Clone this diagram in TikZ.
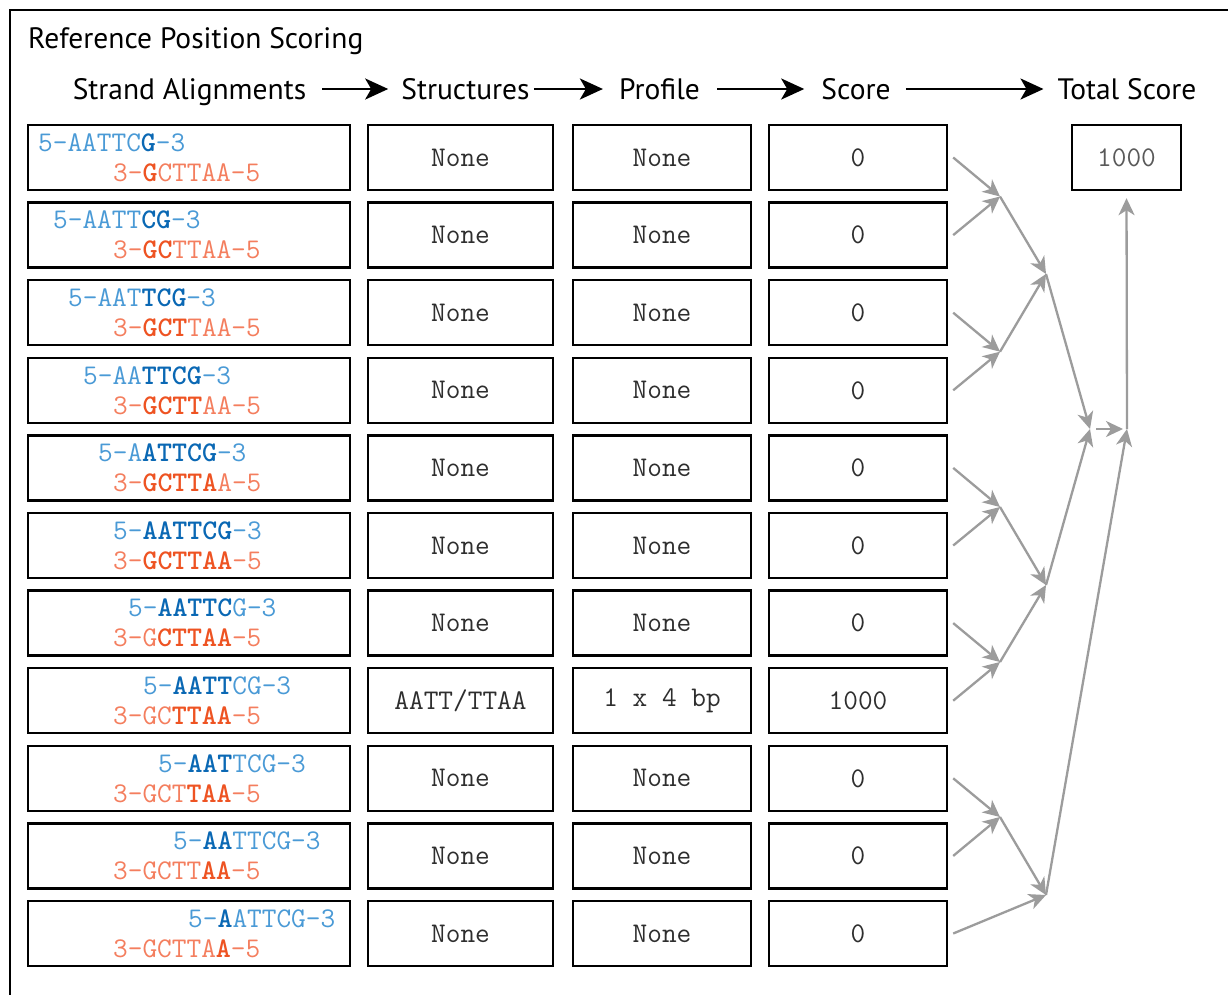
\documentclass[tikz,border=0pt]{standalone}
\usepackage{fontspec}
\usetikzlibrary{arrows.meta}
\newfontfamily\hdrfont{PT Sans}

\definecolor{blueL}{HTML}{4A9AD6}
\definecolor{blueD}{HTML}{0A68B4}
\definecolor{orangeL}{HTML}{F47E5E}
\definecolor{orangeD}{HTML}{EE5322}
\definecolor{flowgray}{HTML}{9C9C9C}
\definecolor{celltext}{HTML}{2E2E2E}

% bold highlighted bases on each strand
\newcommand{\bb}[1]{{\bfseries\color{blueD}#1}}
\newcommand{\ob}[1]{{\bfseries\color{orangeD}#1}}

\tikzset{
  cell/.style={draw=black, line width=2.4pt, minimum height=65pt, inner sep=0pt,
    font=\ttfamily\fontsize{28.5}{30}\selectfont, text=celltext},
  topstrand/.style={anchor=west, inner sep=0pt, text=blueL,
    font=\ttfamily\fontsize{28.5}{30}\selectfont},
  botstrand/.style={topstrand, text=orangeL},
  hdr/.style={font=\hdrfont\fontsize{29.5}{32}\selectfont, inner sep=0pt, anchor=base},
  harrow/.style={draw=black, line width=2.6pt, -{Stealth[length=23pt,width=21pt,inset=6pt]}},
  garrow/.style={draw=flowgray, line width=2.3pt, -{Stealth[length=17pt,width=16pt,inset=5pt]}},
}

% one row: index, top strand, bottom strand, structure, profile, score
\newcommand{\alnrow}[6]{%
  \pgfmathsetmacro{\cy}{157.5+(#1-1)*77.6}%
  \pgfmathsetmacro{\tx}{113+(#1-6)*15}%
  \node[cell, minimum width=322pt] (a#1) at (189,\cy) {};
  \node[topstrand] (t#1) at (\tx,\cy-15) {#2};
  \node[botstrand] (b#1) at (113,\cy+15) {#3};
  \node[cell, minimum width=185pt] (st#1) at (460.5,\cy) {#4};
  \node[cell, minimum width=178pt] (p#1) at (662,\cy) {#5};
  \node[cell, minimum width=178pt] (s#1) at (858,\cy) {#6};
}

\begin{document}
\begin{tikzpicture}[x=1pt,y=-1pt]
\useasboundingbox (0,0) rectangle (1228,994);
\clip (0,0) rectangle (1228,994);
\fill[white] (0,0) rectangle (1228,994);

% outer frame (runs past the right and bottom edges)
\draw[line width=2.4pt] (10,10) rectangle (1300,1100);

% title and column headers
\node[hdr, anchor=base west] (title) at (28,48) {Reference Position Scoring};
\node[hdr] (hStrand) at (189.5,99) {Strand Alignments};
\node[hdr] (hStruct) at (465.5,99) {Structures};
\node[hdr] (hProf) at (659.5,99) {Profile};
\node[hdr] (hScore) at (856,99) {Score};
\node[hdr] (hTotal) at (1127,99) {Total Score};

\coordinate (hy) at (0,89);
\draw[harrow] ([xshift=16pt]hStrand.east |- hy) -- ([xshift=-13pt]hStruct.west |- hy);
\draw[harrow] ([xshift=4pt]hStruct.east |- hy) -- ([xshift=-16pt]hProf.west |- hy);
\draw[harrow] ([xshift=17pt]hProf.east |- hy) -- ([xshift=-17pt]hScore.west |- hy);
\draw[harrow] ([xshift=15pt]hScore.east |- hy) -- ([xshift=-14pt]hTotal.west |- hy);

% alignment rows
\alnrow{1}{5-AATTC\bb{G}-3}{3-\ob{G}CTTAA-5}{None}{None}{0}
\alnrow{2}{5-AATT\bb{CG}-3}{3-\ob{GC}TTAA-5}{None}{None}{0}
\alnrow{3}{5-AAT\bb{TCG}-3}{3-\ob{GCT}TAA-5}{None}{None}{0}
\alnrow{4}{5-AA\bb{TTCG}-3}{3-\ob{GCTT}AA-5}{None}{None}{0}
\alnrow{5}{5-A\bb{ATTCG}-3}{3-\ob{GCTTA}A-5}{None}{None}{0}
\alnrow{6}{5-\bb{AATTCG}-3}{3-\ob{GCTTAA}-5}{None}{None}{0}
\alnrow{7}{5-\bb{AATTC}G-3}{3-G\ob{CTTAA}-5}{None}{None}{0}
\alnrow{8}{5-\bb{AATT}CG-3}{3-GC\ob{TTAA}-5}{AATT/TTAA}{1 x 4 bp}{1000}
\alnrow{9}{5-\bb{AAT}TCG-3}{3-GCT\ob{TAA}-5}{None}{None}{0}
\alnrow{10}{5-\bb{AA}TTCG-3}{3-GCTT\ob{AA}-5}{None}{None}{0}
\alnrow{11}{5-\bb{A}ATTCG-3}{3-GCTTA\ob{A}-5}{None}{None}{0}

% total score
\node[cell, minimum width=109pt, text=black!65] (total) at (1126.5,157.5) {1000};

% merge points of the summation tree
\coordinate (m12) at (1000,196.5);
\coordinate (m34) at (1000,351.7);
\coordinate (m56) at (1000,507);
\coordinate (m78) at (1000,662);
\coordinate (m910) at (1000,817);
\coordinate (mA) at (1046,274);
\coordinate (mB) at (1046,585);
\coordinate (mC) at (1046,895);
\coordinate (f1) at (1090,429);
\coordinate (f2) at (1127,429);

\draw[garrow] ([xshift=5pt]s1.east) -- (m12);
\draw[garrow] ([xshift=5pt]s2.east) -- (m12);
\draw[garrow] ([xshift=5pt]s3.east) -- (m34);
\draw[garrow] ([xshift=5pt]s4.east) -- (m34);
\draw[garrow] ([xshift=5pt]s5.east) -- (m56);
\draw[garrow] ([xshift=5pt]s6.east) -- (m56);
\draw[garrow] ([xshift=5pt]s7.east) -- (m78);
\draw[garrow] ([xshift=5pt]s8.east) -- (m78);
\draw[garrow] ([xshift=5pt]s9.east) -- (m910);
\draw[garrow] ([xshift=5pt]s10.east) -- (m910);
\draw[garrow] ([xshift=5pt]s11.east) -- (mC);

\draw[garrow] (m12) -- (mA);
\draw[garrow] (m34) -- (mA);
\draw[garrow] (m56) -- (mB);
\draw[garrow] (m78) -- (mB);
\draw[garrow] (m910) -- (mC);
\draw[garrow] (mA) -- (f1);
\draw[garrow] (mB) -- (f1);
\draw[garrow, shorten <=6pt, shorten >=4pt] (f1) -- (f2);
\draw[garrow] (mC) -- (f2);
\draw[garrow, shorten >=7pt] (f2) -- (total.south);
\end{tikzpicture}
\end{document}
